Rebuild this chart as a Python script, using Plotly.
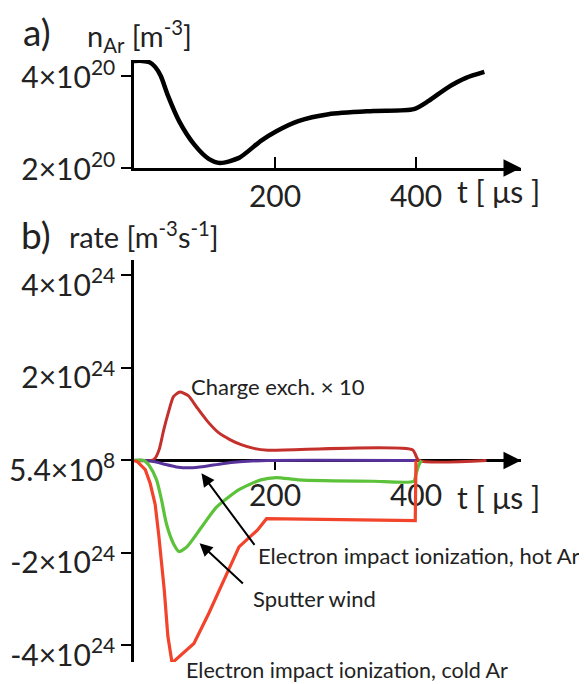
import plotly.graph_objects as go

# ---------------- data ----------------
# panel a: Ar density (units of 1e20 m^-3) vs time (us)
t_a = [0, 12, 22, 30, 38, 48, 64, 85, 106, 122, 149, 180, 202, 233, 276, 339, 397, 418, 445, 471, 497]
n_ar = [4.33, 4.33, 4.30, 4.20, 4.0, 3.58, 3.02, 2.52, 2.20, 2.11, 2.22, 2.59, 2.80, 3.02, 3.17, 3.24, 3.28, 3.46, 3.75, 3.96, 4.09]

# panel b: rates (units of 1e24 m^-3 s^-1)
t_cx = [0, 25, 30, 36, 42, 49, 56, 65, 77, 89, 104, 120, 136, 152, 170, 190, 395, 404, 500]
r_cx = [0, 0, 0.05, 0.25, 0.65, 1.05, 1.38, 1.48, 1.40, 1.15, 0.85, 0.6, 0.45, 0.34, 0.26, 0.22, 0.23, 0, 0]

t_hot = [0, 15, 30, 45, 60, 80, 100, 125, 150, 190, 400]
r_hot = [0, 0, -0.03, -0.09, -0.14, -0.16, -0.13, -0.07, -0.03, 0, 0]

t_sw = [0, 14, 22, 32, 39, 46, 56, 64, 75, 96, 117, 149, 180, 202, 233, 339, 397, 400, 404, 408]
r_sw = [0, 0, -0.12, -0.42, -0.85, -1.37, -1.8, -1.97, -1.87, -1.44, -1.01, -0.63, -0.42, -0.37, -0.42, -0.45, -0.45, -0.3, -0.1, 0]

t_cold = [0, 5, 16, 23, 30, 35, 43, 48, 54, 69, 85, 106, 128, 149, 159, 175, 188, 397, 399, 400]
r_cold = [0, -0.03, -0.2, -0.5, -0.95, -1.6, -2.81, -3.8, -4.38, -4.18, -3.96, -3.31, -2.59, -1.87, -1.73, -1.51, -1.26, -1.30, -1.30, 0]

x_ticks = [200, 400]
ya_ticks = [2, 4]
ya_labels = ["2×10<sup>20</sup>", "4×10<sup>20</sup>"]
yb_ticks = [4, 2, 0, -2, -4]
yb_labels = ["4×10<sup>24</sup>", "2×10<sup>24</sup>", "5.4×10<sup>8</sup>",
             "-2×10<sup>24</sup>", "-4×10<sup>24</sup>"]

# ---------------- layout helpers ----------------
OFF = 8                      # page body margin
W, H = 587 - OFF, 684 - OFF  # figure size
FONT = "Lato"
X_RANGE = [0, 549]
YA_RANGE = [2, 4.35]
YB_RANGE = [-4.36, 4.335]

def fx(p):
    return (p - OFF) / W

def fy(p):
    return 1 - (p - OFF) / H

xdom = [fx(134), fx(521)]
ya_dom = [fy(168), fy(60)]
yb_dom = [fy(662), fy(260)]
zero_pos = yb_dom[0] + (0 - YB_RANGE[0]) / (YB_RANGE[1] - YB_RANGE[0]) * (yb_dom[1] - yb_dom[0])

C_CX = "#c4302c"
C_COLD = "#f2432b"
C_SW = "#5cc23a"
C_HOT = "#56329a"

fig = go.Figure()
fig.add_trace(go.Scatter(x=t_a, y=n_ar, mode="lines", line=dict(color="black", width=4.5, shape="spline", smoothing=0.7),
                         xaxis="x", yaxis="y", showlegend=False, cliponaxis=False))
fig.add_trace(go.Scatter(x=t_cx, y=r_cx, mode="lines", line=dict(color=C_CX, width=3, shape="spline", smoothing=0.6),
                         xaxis="x2", yaxis="y2", showlegend=False))
fig.add_trace(go.Scatter(x=t_hot, y=r_hot, mode="lines", line=dict(color=C_HOT, width=3, shape="spline", smoothing=0.6),
                         xaxis="x2", yaxis="y2", showlegend=False))
fig.add_trace(go.Scatter(x=t_sw, y=r_sw, mode="lines", line=dict(color=C_SW, width=3.2, shape="spline", smoothing=0.6),
                         xaxis="x2", yaxis="y2", showlegend=False))
fig.add_trace(go.Scatter(x=t_cold, y=r_cold, mode="lines", line=dict(color=C_COLD, width=3.2),
                         xaxis="x2", yaxis="y2", showlegend=False, cliponaxis=False))

axis_font = dict(family=FONT, size=30, color="#222")
common = dict(showgrid=False, zeroline=False, automargin=False, fixedrange=True,
              linecolor="black", linewidth=2.5, showline=True, tickwidth=1.5, tickcolor="black",
              tickfont=axis_font)

fig.update_layout(
    template="none",
    width=W, height=H, autosize=False,
    margin=dict(l=0, r=0, t=0, b=0, pad=0),
    paper_bgcolor="white", plot_bgcolor="rgba(0,0,0,0)",
    font=dict(family=FONT, color="#222"),
    xaxis=dict(domain=xdom, range=X_RANGE, anchor="y", tickvals=x_ticks, ticks="inside", ticklen=11, **common),
    yaxis=dict(domain=ya_dom, range=YA_RANGE, anchor="x", tickvals=ya_ticks, ticktext=ya_labels,
               ticks="outside", ticklen=10, ticklabelshift=1, **common),
    xaxis2=dict(domain=xdom, range=X_RANGE, anchor="free", position=zero_pos, layer="below traces",
                tickvals=x_ticks, ticks="outside", ticklen=8, **common),
    yaxis2=dict(domain=yb_dom, range=YB_RANGE, anchor="x2", tickvals=yb_ticks, ticktext=yb_labels,
                ticks="outside", ticklen=10, ticklabelshift=10, **common),
)

ann = []
# arrow heads at the end of the time axes
for xr, yr, yv in [("x", "y", YA_RANGE[0]), ("x2", "y2", 0)]:
    ann.append(dict(x=X_RANGE[1], y=yv, xref=xr, yref=yr, ax=X_RANGE[1] - 25, ay=yv, axref=xr, ayref=yr,
                    showarrow=True, arrowhead=2, arrowsize=1.4, arrowwidth=2.5, arrowcolor="black", text=""))

def ptxt(text, xpx, ypx, size, xanchor="left"):
    return dict(text=text, x=fx(xpx), y=fy(ypx), xref="paper", yref="paper", showarrow=False,
                xanchor=xanchor, yanchor="middle", font=dict(family=FONT, size=size, color="#222"))

ann.append(ptxt("a)", 21, 31, 37))
ann.append(ptxt("n<sub>Ar</sub> [m<sup>-3</sup>]", 85, 36, 29))
ann.append(ptxt("t [ μs ]", 455, 191, 30))
ann.append(ptxt("b)", 19, 234, 37))
ann.append(ptxt("rate [m<sup>-3</sup>s<sup>-1</sup>]", 67, 235, 29))
ann.append(ptxt("t [ μs ]", 455, 497, 30))

ann.append(ptxt("Charge exch. × 10", 189, 386, 22))
ann.append(ptxt("Electron impact ionization, hot Ar", 256, 555, 22))
ann.append(ptxt("Sputter wind", 251, 598, 22))
ann.append(ptxt("Electron impact ionization, cold Ar", 184, 670, 21.5))

# pointer arrows
for (tx, ty, hx, hy) in [(172.5, -1.86, 95.7, -0.28), (156.6, -2.69, 93, -1.79)]:
    ann.append(dict(x=hx, y=hy, ax=tx, ay=ty, xref="x2", yref="y2", axref="x2", ayref="y2",
                    showarrow=True, arrowhead=2, arrowsize=1.3, arrowwidth=2, arrowcolor="black", text=""))

fig.update_layout(annotations=ann)
fig.write_html("out.html")
